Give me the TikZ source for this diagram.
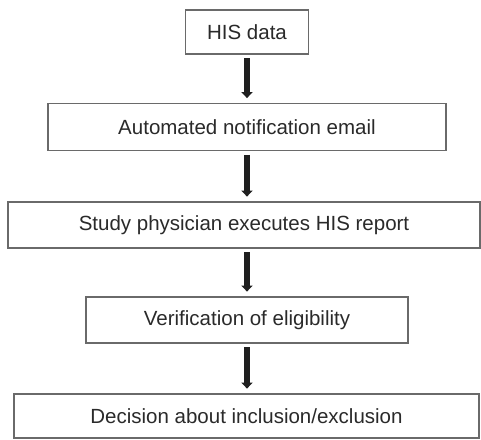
\documentclass[tikz,border=0pt]{standalone}
\usepackage{fontspec}
\setmainfont{Liberation Sans}
\usetikzlibrary{arrows.meta}
\definecolor{boxline}{HTML}{6A6A6A}
\definecolor{txt}{HTML}{2A2A2A}
\tikzset{
  box/.style={draw=boxline, line width=1.8pt, fill=white, text=txt,
    inner sep=0pt, font=\fontsize{20.5}{24}\selectfont},
  flow/.style={draw=black!88, line width=5.5pt,
    -{Triangle[width=11pt,length=6pt]}, shorten <=3.5pt, shorten >=4.5pt}
}
\begin{document}
\begin{tikzpicture}
\useasboundingbox (0,0) rectangle (481pt,-439pt);
% boxes of the flow, top to bottom
\node[box, minimum width=123pt, minimum height=44pt] (his) at (247pt,-32pt) {HIS data};
\node[box, minimum width=398pt, minimum height=47pt] (auto) at (247pt,-127pt) {Automated notification email};
\node[box, minimum width=472pt, minimum height=46pt] (study) at (244pt,-225pt) {Study physician executes HIS report};
\node[box, minimum width=322pt, minimum height=46pt] (verif) at (247pt,-320pt) {Verification of eligibility};
\node[box, minimum width=465pt, minimum height=44pt] (decide) at (246.5pt,-416pt) {Decision about inclusion/exclusion};
% downward arrows between consecutive steps
\draw[flow] (his.south) -- (his.south |- auto.north);
\draw[flow] (auto.south) -- (auto.south |- study.north);
\draw[flow] (auto.south |- study.south) -- (auto.south |- verif.north);
\draw[flow] (verif.south) -- (verif.south |- decide.north);
\end{tikzpicture}
\end{document}
